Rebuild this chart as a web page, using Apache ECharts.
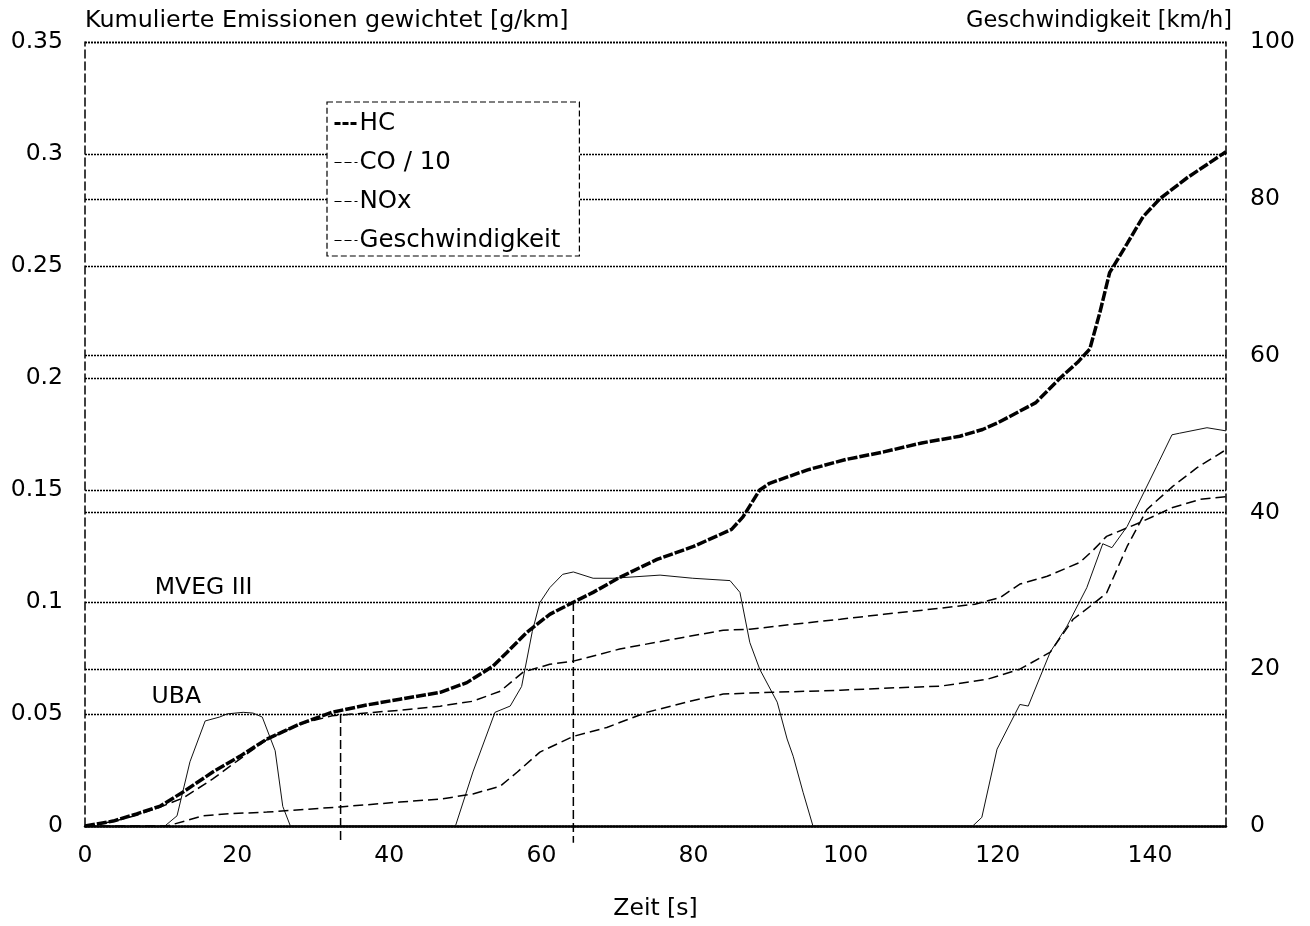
<!DOCTYPE html>
<html>
<head>
<meta charset="utf-8">
<script src="https://cdn.jsdelivr.net/npm/echarts@6/dist/echarts.min.js"></script>
<style>html,body{margin:0;padding:0;background:#fff}#c{width:1310px;height:926px}</style>
</head>
<body>
<div id="c"></div>
<script>
// ---- data ----
const hcT = [0, 3.7, 6.8, 9.9, 12.9, 16.8, 20.4, 23.9, 28.2, 32.5, 37, 41.4, 46.7, 50.2, 53.6, 55.5, 58.1, 61.1, 64.2, 66.8, 70.3, 75.2, 80, 85, 86.5, 88.7, 90, 95, 100, 105, 110, 115, 118, 120, 125, 128.2, 130.5, 132.1, 133.4, 134.7, 137, 139.1, 141.3, 144.9, 150];
const hcV = [0, 0.0022, 0.0054, 0.0089, 0.0152, 0.0241, 0.0312, 0.0388, 0.0455, 0.0508, 0.0540, 0.0566, 0.0597, 0.064, 0.0713, 0.0776, 0.0865, 0.0945, 0.0999, 0.1043, 0.111, 0.119, 0.1248, 0.1324, 0.138, 0.150, 0.153, 0.159, 0.1636, 0.167, 0.171, 0.174, 0.177, 0.180, 0.189, 0.200, 0.207, 0.213, 0.229, 0.247, 0.260, 0.272, 0.280, 0.2894, 0.301];

const coT = [0, 3.7, 6.8, 9.9, 12.9, 16.8, 20.4, 23.9, 28.2, 32.5, 37, 41.4, 46.7, 51, 54.6, 57.6, 61.1, 64.2, 70.3, 77.3, 83.9, 87.4, 93, 99.3, 105, 112.4, 117, 120.3, 122.9, 126.5, 130.8, 132.5, 134.3, 138.7, 143, 146.6, 150];
const coV = [0, 0.002, 0.0048, 0.0085, 0.0125, 0.021, 0.030, 0.0385, 0.0455, 0.0492, 0.0505, 0.0517, 0.0535, 0.0557, 0.0602, 0.0687, 0.0722, 0.0736, 0.079, 0.0834, 0.0874, 0.0878, 0.090, 0.0923, 0.0945, 0.0972, 0.099, 0.102, 0.108, 0.1115, 0.1177, 0.123, 0.1293, 0.1355, 0.1422, 0.1458, 0.147];

const noxT = [0, 10.8, 15.5, 19, 23.9, 33.5, 41.4, 46.7, 51, 54.6, 56.8, 59.8, 64.2, 68.6, 73.9, 79.5, 83.9, 90.4, 99.3, 105, 112.4, 118.6, 122.9, 126.9, 129.9, 132.1, 134.3, 137, 139.6, 143, 146.2, 150];
const noxV = [0, 0, 0.0045, 0.0055, 0.0062, 0.0085, 0.0107, 0.012, 0.0143, 0.0178, 0.024, 0.033, 0.040, 0.044, 0.0508, 0.0557, 0.0589, 0.0597, 0.0606, 0.0615, 0.0624, 0.0655, 0.070, 0.0776, 0.0923, 0.098, 0.104, 0.1248, 0.1413, 0.1516, 0.160, 0.168];

const vT = [0, 10.5, 12.1, 13.8, 15.8, 17.7, 18.7, 20.8, 22.1, 23.3, 25, 26, 27, 48.7, 51, 53.9, 55.9, 57.4, 58.8, 59.8, 61.1, 62.8, 64.2, 66.8, 69.4, 75.6, 79.9, 84.8, 86.1, 87.4, 88.7, 91, 92.3, 93.1, 94.4, 95.7, 116.7, 117.9, 119.9, 122.9, 124, 126.9, 129.1, 131.7, 133.8, 135, 137, 140.9, 142.9, 143.9, 147.5, 150];
const vV = [0, 0, 1.3, 8.2, 13.4, 13.9, 14.3, 14.5, 14.4, 13.9, 9.6, 2.5, 0, 0, 6.9, 14.5, 15.3, 17.8, 24.8, 28.5, 30.4, 32.1, 32.4, 31.6, 31.6, 32, 31.6, 31.3, 29.8, 23.4, 20, 15.8, 11.1, 8.9, 4.3, 0, 0, 1.1, 9.8, 15.5, 15.3, 22.2, 25.5, 30.4, 36, 35.5, 38.2, 45.9, 49.9, 50.1, 50.8, 50.4];

const seriesNames = ['HC', 'CO / 10', 'NOx', 'Geschwindigkeit'];
const limitNames = ['MVEG III', 'UBA'];
const limitValues = [0.1, 0.05];
const limitLabelT = [15.6, 12];
const crossT = [64.2, 33.6];     // time where HC reaches the limit
const crossBottom = -0.0075;     // marker lines reach slightly below the axis

const xTicks = { min: 0, max: 150, interval: 20 };
const yLeft = { min: 0, max: 0.35, interval: 0.05 };
const yRight = { min: 0, max: 100, interval: 20 };

// ---- chart ----
const zip = (a, b) => a.map((t, i) => [t, b[i]]);
const FONT = 'DejaVu Sans';
const FS = 23.5;
const chart = echarts.init(document.getElementById('c'), null, { renderer: 'canvas' });

const gridLine = { show: true, lineStyle: { color: '#000', width: 1.3, type: [2, 1] } };
const borderLine = { show: true, lineStyle: { color: '#000', width: 1.5, type: [8, 4] } };
const blackItem = { color: '#000', opacity: 1 };

const series = [
  { name: seriesNames[0], type: 'line', data: zip(hcT, hcV), yAxisIndex: 0, symbol: 'none', z: 6, itemStyle: blackItem,
    lineStyle: { color: '#000', width: 3.5, type: [10, 2] } },
  { name: seriesNames[1], type: 'line', data: zip(coT, coV), yAxisIndex: 0, symbol: 'none', z: 5, itemStyle: blackItem,
    lineStyle: { color: '#000', width: 1.5, type: [10, 5] } },
  { name: seriesNames[2], type: 'line', data: zip(noxT, noxV), yAxisIndex: 0, symbol: 'none', z: 5, itemStyle: blackItem,
    lineStyle: { color: '#000', width: 1.5, type: [10, 5] } },
  { name: seriesNames[3], type: 'line', data: zip(vT, vV), yAxisIndex: 1, symbol: 'none', z: 4, itemStyle: blackItem,
    lineStyle: { color: '#111', width: 1, type: 'solid' } }
];
crossT.forEach((t, i) => {
  series.push({ name: 'marker' + i, type: 'line', yAxisIndex: 0, symbol: 'none', clip: false, silent: true, z: 3,
    data: [[t, limitValues[i]], [t, crossBottom]], itemStyle: blackItem,
    lineStyle: { color: '#000', width: 1.5, type: [9, 4] } });
});
series.push({
  name: 'limits', type: 'scatter', yAxisIndex: 0, symbolSize: 0, silent: true, z: 7,
  itemStyle: blackItem,
  data: limitNames.map((n, i) => ({ name: n, value: [limitLabelT[i], limitValues[i]],
    label: { distance: i === 0 ? 2 : 5 } })),
  label: { show: true, position: 'top', formatter: '{b}', fontSize: FS, fontFamily: FONT, color: '#000', opacity: 1 }
});

const legendLine = [
  { color: '#000', width: 3, type: [6, 2] },
  { color: '#000', width: 1.2, type: [7, 3] },
  { color: '#000', width: 1.2, type: [7, 3] },
  { color: '#000', width: 1.2, type: [7, 3] }
];

chart.setOption({
  animation: false,
  backgroundColor: '#fff',
  textStyle: { fontFamily: FONT, color: '#000' },
  grid: { left: 85, right: 84, top: 42, bottom: 99 },
  legend: {
    data: seriesNames.map((n, i) => ({ name: n, lineStyle: legendLine[i] })),
    orient: 'vertical', left: 327, top: 102,
    selectedMode: false, backgroundColor: '#fff',
    borderColor: '#000', borderWidth: 1.2, borderType: [6, 3],
    padding: [9, 19, 3, 6], itemGap: 14, itemWidth: 23, itemHeight: 12,
    itemStyle: { color: 'rgba(0,0,0,0)', borderWidth: 0, opacity: 0 },
    textStyle: { fontSize: 24.5, fontFamily: FONT, color: '#000', lineHeight: 24, padding: [0, 0, 0, -3] }
  },
  xAxis: {
    type: 'value', min: xTicks.min, max: xTicks.max, interval: xTicks.interval,
    axisLine: { show: true, onZero: false, lineStyle: { color: '#000', width: 2.5 } },
    axisTick: { show: false }, splitLine: { show: false },
    axisLabel: { fontSize: FS, color: '#000', margin: 18, showMaxLabel: false },
    name: 'Zeit [s]', nameLocation: 'middle', nameGap: 71,
    nameTextStyle: { fontSize: FS, color: '#000' }
  },
  yAxis: [
    { type: 'value', position: 'left', min: yLeft.min, max: yLeft.max, interval: yLeft.interval,
      axisLine: borderLine, axisTick: { show: false }, splitLine: gridLine,
      axisLabel: { fontSize: FS, color: '#000', margin: 22 },
      name: 'Kumulierte Emissionen gewichtet [g/km]', nameLocation: 'end', nameGap: 9,
      nameTextStyle: { fontSize: 23.8, color: '#000', align: 'left', verticalAlign: 'bottom' } },
    { type: 'value', position: 'right', min: yRight.min, max: yRight.max, interval: yRight.interval,
      axisLine: borderLine, axisTick: { show: false }, splitLine: gridLine,
      axisLabel: { fontSize: FS, color: '#000', margin: 24 },
      name: 'Geschwindigkeit [km/h]', nameLocation: 'end', nameGap: 9,
      nameTextStyle: { fontSize: 22.5, color: '#000', align: 'right', verticalAlign: 'bottom', padding: [0, -6, 0, 0] } }
  ],
  series: series
});
</script>
</body>
</html>
